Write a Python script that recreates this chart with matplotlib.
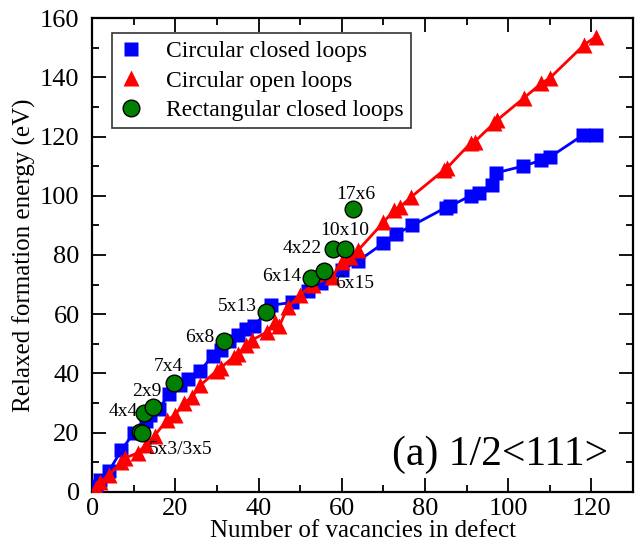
import matplotlib
matplotlib.use('Agg')
import matplotlib.pyplot as plt
from matplotlib.ticker import MultipleLocator

plt.rcParams['font.family'] = ['Liberation Serif', 'DejaVu Serif']
plt.rcParams['mathtext.fontset'] = 'stix'

# circular closed loops
closed_n = [1, 2, 4, 7, 10, 13, 14, 16, 18.5, 21, 23, 26, 29, 31, 33, 35, 37, 39,
            43, 48, 52, 55, 60, 64, 70, 73, 77, 85, 86, 91, 93, 96, 97, 103.6,
            108, 110, 118, 121]
closed_e = [2, 4, 7, 14, 20, 24, 26, 28, 33, 36, 38, 41, 46, 48, 51, 53, 55, 56,
            63, 64, 68, 70.5, 75, 78, 84, 87, 90, 96, 96.5, 100, 101, 103.6, 107.7,
            110, 112, 113, 120.5, 120.5]

# circular open loops
open_n = [1, 2, 4, 7, 8, 11, 13, 15, 18, 20, 22, 24, 26, 30, 31, 34, 35, 37, 38.5,
          42, 44, 45, 47, 50, 53, 57.7, 60, 62, 64, 70, 72.6, 74, 76.7, 84.6, 85.3,
          91, 92, 96.6, 97.4, 103.8, 108, 110, 118.3, 121]
open_e = [1.3, 3.4, 5.7, 10, 11.5, 13.2, 16, 19, 24.3, 26, 30, 32, 36, 41, 42,
          45.6, 46.5, 49.6, 51.3, 54, 57.4, 56, 62.4, 66.5, 70, 72.6, 77.6, 79.3,
          81.7, 91, 95.2, 96.2, 99.6, 108.7, 109.4, 117.8, 118.3, 124.5, 125.6,
          133, 138, 139.7, 151, 153.6]

# rectangular closed loops
rect_n = [11.5, 12, 12.4, 14.6, 19.7, 31.7, 41.7, 52.6, 55.8, 57.8, 60.8, 62.7]
rect_e = [20.3, 20, 26.6, 28.8, 36.7, 51, 60.7, 72.1, 74.7, 81.9, 81.9, 95.4]

# shape labels: text, x, y, alignment
rect_labels = [
    ('5x3/3x5', 13.6, 14.3, 'left'),
    ('4x4', 10.9, 27.1, 'right'),
    ('2x9', 13.1, 33.8, 'center'),
    ('7x4', 18.3, 42.3, 'center'),
    ('6x8', 29.3, 52.3, 'right'),
    ('5x13', 39.7, 62.6, 'right'),
    ('6x14', 50.2, 72.7, 'right'),
    ('6x15', 58.3, 70.3, 'left'),
    ('4x22', 55.3, 82.3, 'right'),
    ('10x10', 60.7, 88.4, 'center'),
    ('17x6', 63.3, 100.3, 'center'),
]

fig = plt.figure(figsize=(6.4, 5.46), dpi=100)
ax = fig.add_axes([0.144, 0.099, 0.845, 0.868])

ax.plot(closed_n, closed_e, color='#0000ff', lw=2, marker='s', ms=10.5,
        mec='none', label='Circular closed loops', zorder=3)
ax.plot(open_n, open_e, color='#ff0000', lw=2, marker='^', ms=12,
        mec='none', label='Circular open loops', zorder=4)
ax.plot(rect_n, rect_e, ls='none', marker='o', ms=12, color='#008000',
        mec='black', mew=1, label='Rectangular closed loops', zorder=5)

for txt, x, y, ha in rect_labels:
    ax.text(x, y, txt, ha=ha, va='center', fontsize=14, zorder=6)

ax.text(124, 12.5, '(a) 1/2<111>', ha='right', va='center', fontsize=30)

ax.set_xlim(0, 130)
ax.set_ylim(0, 160)
ax.xaxis.set_major_locator(MultipleLocator(20))
ax.xaxis.set_minor_locator(MultipleLocator(10))
ax.yaxis.set_major_locator(MultipleLocator(20))
ax.yaxis.set_minor_locator(MultipleLocator(10))
ax.tick_params(which='both', direction='in', top=True, right=True, width=1.3)
ax.tick_params(which='major', length=10, labelsize=19)
ax.tick_params(which='minor', length=5)
ax.tick_params(axis='x', which='major', pad=4)
ax.tick_params(axis='y', which='major', pad=9)
for sp in ax.spines.values():
    sp.set_linewidth(1.6)

ax.set_xlabel('Number of vacancies in defect', fontsize=18, labelpad=0)
ax.set_ylabel('Relaxed formation energy (eV)', fontsize=18, labelpad=3)

leg = ax.legend(loc='upper left', bbox_to_anchor=(0.037, 0.968), fontsize=17,
                frameon=True, fancybox=False, edgecolor='black',
                handlelength=1.0, handletextpad=1.0, borderpad=0.3,
                labelspacing=0.35, borderaxespad=0)
leg.get_frame().set_linewidth(1.2)
for h in leg.legend_handles:
    h.set_linestyle('none')

fig.savefig('out.png', dpi=100)
